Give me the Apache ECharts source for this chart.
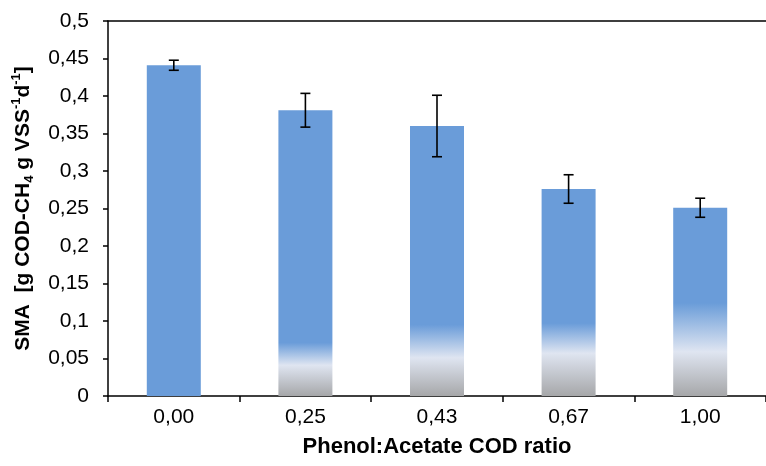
<!DOCTYPE html>
<html>
<head>
<meta charset="utf-8">
<script src="https://cdn.jsdelivr.net/npm/echarts@6/dist/echarts.min.js"></script>
<style>
  html, body { margin: 0; padding: 0; background: #ffffff; }
  #chart { width: 766px; height: 466px; }
</style>
</head>
<body>
<div id="chart"></div>
<script>
// categories and values
const ratios = ['0,00', '0,25', '0,43', '0,67', '1,00']
const sma = [0.441, 0.381, 0.360, 0.276, 0.251]
const smaErr = [0.0067, 0.0225, 0.041, 0.019, 0.0127]
// bottom fade of each bar: where the blue starts to fade, and the pale band (in axis units)
const fadeTop = [0, 0.071, 0.095, 0.097, 0.124]
const fadeMid = [0, 0.041, 0.051, 0.057, 0.059]
const yTicks = { min: 0, max: 0.5, step: 0.05 }

const blue = '#6a9cd9'
const chartDom = document.getElementById('chart')
const myChart = echarts.init(chartDom)

const barData = sma.map((v, i) => {
  if (!fadeTop[i]) return { value: v, itemStyle: { color: blue } }
  return {
    value: v,
    itemStyle: {
      color: new echarts.graphic.LinearGradient(0, 0, 0, 1, [
        { offset: 0, color: blue },
        { offset: 1 - fadeTop[i] / v, color: blue },
        { offset: 1 - fadeMid[i] / v, color: '#dfe5f1' },
        { offset: 1, color: '#a6a7a9' }
      ])
    }
  }
})

const errData = sma.map((v, i) => [i, v - smaErr[i], v + smaErr[i]])

const fmt = v => String(+v.toFixed(2)).replace('.', ',')
const font = 'Liberation Sans'

const option = {
  animation: false,
  grid: { left: 108, top: 21, width: 666, bottom: 70 },
  xAxis: [
    {
      type: 'category',
      data: ratios,
      name: 'Phenol:Acetate COD ratio',
      nameLocation: 'middle',
      nameGap: 40,
      nameTextStyle: { fontFamily: font, fontSize: 22, fontWeight: 'bold', color: '#000' },
      axisLine: { lineStyle: { color: '#000', width: 1.5 } },
      axisTick: { show: true, length: 6, lineStyle: { color: '#000', width: 1.5 } },
      axisLabel: { fontFamily: font, fontSize: 21, color: '#000', margin: 11 }
    },
    {
      type: 'category',
      data: ratios,
      position: 'top',
      axisLine: { lineStyle: { color: '#000', width: 1.5 } },
      axisTick: { show: false },
      axisLabel: { show: false }
    }
  ],
  yAxis: {
    type: 'value',
    min: yTicks.min,
    max: yTicks.max,
    interval: yTicks.step,
    name: '{b|SMA  [g COD-CH}{s|4}{b| g VSS}{p|-1}{b|d}{p|-1}{b|]}',
    nameLocation: 'middle',
    nameGap: 72,
    nameTextStyle: {
      rich: {
        b: { fontFamily: font, fontSize: 21, fontWeight: 'bold', color: '#000', lineHeight: 26, verticalAlign: 'middle' },
        s: { fontFamily: font, fontSize: 13, fontWeight: 'bold', color: '#000', lineHeight: 26, verticalAlign: 'bottom' },
        p: { fontFamily: font, fontSize: 13, fontWeight: 'bold', color: '#000', lineHeight: 26, verticalAlign: 'top' }
      }
    },
    axisLine: { show: true, lineStyle: { color: '#000', width: 1.5 } },
    axisTick: { show: true, length: 5, lineStyle: { color: '#000', width: 1.5 } },
    splitLine: { show: false },
    axisLabel: { fontFamily: font, fontSize: 21, color: '#000', margin: 19, formatter: fmt }
  },
  series: [
    {
      name: 'SMA',
      type: 'bar',
      barWidth: 54,
      data: barData
    },
    {
      name: 'error',
      type: 'custom',
      z: 5,
      data: errData,
      renderItem: function (params, api) {
        const lo = api.coord([api.value(0), api.value(1)])
        const hi = api.coord([api.value(0), api.value(2)])
        const half = 5
        const style = { stroke: '#000', lineWidth: 1.6 }
        return {
          type: 'group',
          children: [
            { type: 'line', shape: { x1: hi[0], y1: hi[1], x2: lo[0], y2: lo[1] }, style },
            { type: 'line', shape: { x1: hi[0] - half, y1: hi[1], x2: hi[0] + half, y2: hi[1] }, style },
            { type: 'line', shape: { x1: lo[0] - half, y1: lo[1], x2: lo[0] + half, y2: lo[1] }, style }
          ]
        }
      }
    }
  ]
}
option && myChart.setOption(option)
</script>
</body>
</html>
